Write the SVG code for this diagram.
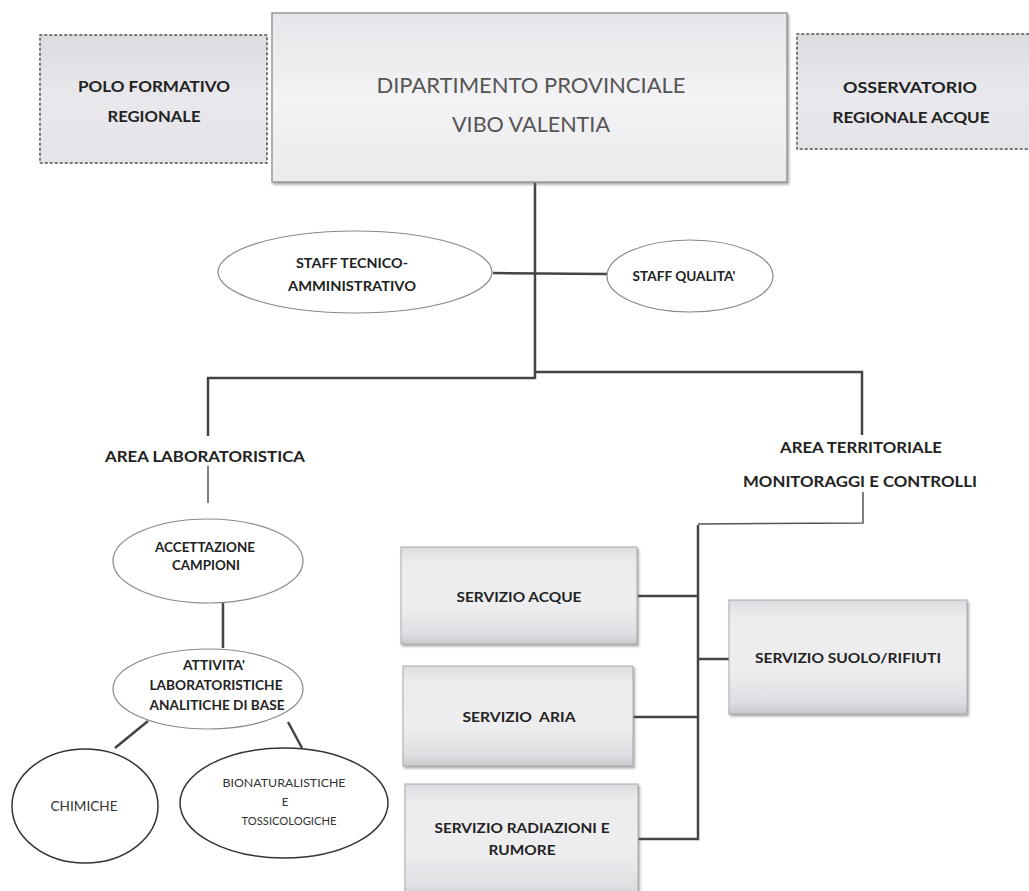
<svg xmlns="http://www.w3.org/2000/svg" width="1029" height="891" viewBox="0 0 1029 891">
  <defs>
    <linearGradient id="gBox" x1="0" y1="0" x2="0" y2="1">
      <stop offset="0" stop-color="#dcdce0"/>
      <stop offset="0.15" stop-color="#ececef"/>
      <stop offset="0.6" stop-color="#eeeef1"/>
      <stop offset="0.9" stop-color="#dedee2"/>
      <stop offset="1" stop-color="#c9c9cd"/>
    </linearGradient>
    <linearGradient id="gMain" x1="0" y1="0" x2="0" y2="1">
      <stop offset="0" stop-color="#e6e6ea"/>
      <stop offset="0.5" stop-color="#f3f2f5"/>
      <stop offset="1" stop-color="#ebebee"/>
    </linearGradient>
    <linearGradient id="gSide" x1="0" y1="0" x2="0" y2="1">
      <stop offset="0" stop-color="#dcdce0"/>
      <stop offset="0.5" stop-color="#e9e9ed"/>
      <stop offset="1" stop-color="#e4e4e8"/>
    </linearGradient>
    <filter id="sh" x="-5%" y="-5%" width="112%" height="115%">
      <feDropShadow dx="1.5" dy="2" stdDeviation="1.2" flood-color="#666" flood-opacity="0.55"/>
    </filter>
  </defs>
  <style>
    .t { font-family: "Lato", "Liberation Sans", sans-serif; fill: #222; font-weight: bold; text-anchor: middle; }
    .main { font-family: "Lato", "Liberation Sans", sans-serif; fill: #555; font-size: 22px; text-anchor: middle; }
    .reg { font-family: "Lato", "Liberation Sans", sans-serif; fill: #333; text-anchor: middle; }
    .ln { stroke: #444; stroke-width: 2.5; fill: none; }
    .thin { stroke: #555; stroke-width: 1.5; fill: none; }
    .dot { fill: url(#gSide); stroke: #777; stroke-width: 2; stroke-dasharray: 1.5 3.5; stroke-linecap: round; }
    .svc { fill: url(#gBox); stroke: #aaa; stroke-width: 1; filter: url(#sh); }
    .ell { fill: #fff; stroke: #888; stroke-width: 1.2; }
    .ellD { fill: #fff; stroke: #333; stroke-width: 1.5; }
  </style>
  <rect width="1029" height="891" fill="#fff"/>

  <g id="connectors">
    <line class="ln" x1="535" y1="182" x2="535" y2="379"/>
    <line class="ln" x1="493" y1="273" x2="607" y2="274"/>
    <polyline class="ln" points="208,436 208,378 535,378"/>
    <polyline class="ln" points="535,372 862,372 862,435"/>
    <line class="thin" x1="208" y1="466" x2="208" y2="503"/>
    <polyline class="thin" points="863,492 863,523 698,524"/>
    <polyline class="ln" points="698,525 698,839 638,839"/>
    <line class="ln" x1="638" y1="596" x2="698" y2="596"/>
    <line class="ln" x1="633" y1="717" x2="698" y2="717"/>
    <line class="ln" x1="698" y1="659" x2="730" y2="659"/>
    <line class="ln" x1="223" y1="603" x2="223" y2="648"/>
    <line class="ln" x1="148" y1="721" x2="115" y2="748"/>
    <line class="ln" x1="288" y1="722" x2="302" y2="748"/>
  </g>

  <g id="polo">
    <rect class="dot" x="40" y="35" width="227" height="128"/>
    <text class="t" x="154" y="92" font-size="16" textLength="152" lengthAdjust="spacingAndGlyphs">POLO FORMATIVO</text>
    <text class="t" x="154" y="122" font-size="16" textLength="93" lengthAdjust="spacingAndGlyphs">REGIONALE</text>
  </g>

  <g id="dipartimento">
    <rect x="272" y="13" width="515" height="169" fill="url(#gMain)" stroke="#999" stroke-width="1.5" filter="url(#sh)"/>
    <text class="main" x="531" y="93" textLength="309" lengthAdjust="spacingAndGlyphs">DIPARTIMENTO PROVINCIALE</text>
    <text class="main" x="531" y="132" textLength="158" lengthAdjust="spacingAndGlyphs">VIBO VALENTIA</text>
  </g>

  <g id="osservatorio">
    <rect class="dot" x="797" y="34" width="245" height="115"/>
    <text class="t" x="910" y="93" font-size="16" textLength="134" lengthAdjust="spacingAndGlyphs">OSSERVATORIO</text>
    <text class="t" x="911" y="123" font-size="16" textLength="157" lengthAdjust="spacingAndGlyphs">REGIONALE ACQUE</text>
  </g>

  <g id="staff-tecnico">
    <ellipse class="ell" cx="355" cy="272" rx="137" ry="41"/>
    <text class="t" x="352" y="268" font-size="13.5" textLength="112" lengthAdjust="spacingAndGlyphs">STAFF TECNICO-</text>
    <text class="t" x="352" y="291" font-size="13.5" textLength="128" lengthAdjust="spacingAndGlyphs">AMMINISTRATIVO</text>
  </g>

  <g id="staff-qualita">
    <ellipse class="ell" cx="690" cy="276" rx="83" ry="36"/>
    <text class="t" x="684" y="281" font-size="13.5" textLength="103" lengthAdjust="spacingAndGlyphs">STAFF QUALITA'</text>
  </g>

  <g id="area-lab">
    <text class="t" x="205" y="462" font-size="16" textLength="200" lengthAdjust="spacingAndGlyphs">AREA LABORATORISTICA</text>
  </g>

  <g id="area-territoriale">
    <text class="t" x="861" y="453" font-size="16" textLength="162" lengthAdjust="spacingAndGlyphs">AREA TERRITORIALE</text>
    <text class="t" x="860" y="487" font-size="16" textLength="234" lengthAdjust="spacingAndGlyphs">MONITORAGGI E CONTROLLI</text>
  </g>

  <g id="accettazione">
    <ellipse class="ell" cx="208" cy="561" rx="95" ry="42"/>
    <text class="t" x="205" y="552" font-size="13" textLength="100" lengthAdjust="spacingAndGlyphs">ACCETTAZIONE</text>
    <text class="t" x="206" y="570" font-size="13" textLength="68" lengthAdjust="spacingAndGlyphs">CAMPIONI</text>
  </g>

  <g id="attivita">
    <ellipse class="ell" cx="208" cy="689" rx="95" ry="40"/>
    <text class="t" x="214" y="670" font-size="13" textLength="62" lengthAdjust="spacingAndGlyphs">ATTIVITA'</text>
    <text class="t" x="216" y="690" font-size="13" textLength="133" lengthAdjust="spacingAndGlyphs">LABORATORISTICHE</text>
    <text class="t" x="217" y="710" font-size="13" textLength="135" lengthAdjust="spacingAndGlyphs">ANALITICHE DI BASE</text>
  </g>

  <g id="chimiche">
    <ellipse class="ellD" cx="85" cy="806" rx="73" ry="57"/>
    <text class="reg" x="84" y="811" font-size="13.5" textLength="67" lengthAdjust="spacingAndGlyphs">CHIMICHE</text>
  </g>

  <g id="bionaturalistiche">
    <ellipse class="ellD" cx="284" cy="803" rx="104" ry="55"/>
    <text class="reg" x="284" y="787" font-size="11.5" textLength="123" lengthAdjust="spacingAndGlyphs">BIONATURALISTICHE</text>
    <text class="reg" x="285" y="806" font-size="11.5">E</text>
    <text class="reg" x="289" y="825" font-size="11.5" textLength="95" lengthAdjust="spacingAndGlyphs">TOSSICOLOGICHE</text>
  </g>

  <g id="servizio-acque">
    <rect class="svc" x="401" y="547" width="236" height="97"/>
    <text class="t" x="519" y="602" font-size="14" textLength="125" lengthAdjust="spacingAndGlyphs">SERVIZIO ACQUE</text>
  </g>

  <g id="servizio-aria">
    <rect class="svc" x="403" y="666" width="230" height="100"/>
    <text class="t" x="519" y="722" font-size="14" textLength="113" lengthAdjust="spacingAndGlyphs" xml:space="preserve">SERVIZIO  ARIA</text>
  </g>

  <g id="servizio-radiazioni">
    <rect class="svc" x="405" y="784" width="233" height="115"/>
    <text class="t" x="522" y="833" font-size="14" textLength="175" lengthAdjust="spacingAndGlyphs">SERVIZIO RADIAZIONI E</text>
    <text class="t" x="522" y="855" font-size="14" textLength="67" lengthAdjust="spacingAndGlyphs">RUMORE</text>
  </g>

  <g id="servizio-suolo">
    <rect class="svc" x="729" y="600" width="238" height="114"/>
    <text class="t" x="848" y="663" font-size="14" textLength="186" lengthAdjust="spacingAndGlyphs">SERVIZIO SUOLO/RIFIUTI</text>
  </g>
</svg>
